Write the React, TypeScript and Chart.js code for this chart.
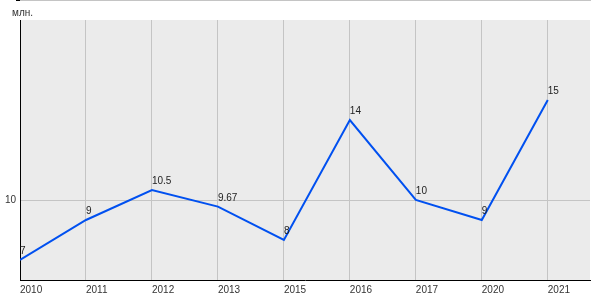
import React, { useEffect, useRef } from "react";
import { Chart, registerables } from "chart.js";

Chart.register(...registerables);

const years = ["2010", "2011", "2012", "2013", "2015", "2016", "2017", "2020", "2021"];
const values = [7, 9, 10.5, 9.67, 8, 14, 10, 9, 15];
const valueLabels = ["7", "9", "10.5", "9.67", "8", "14", "10", "9", "15"];
const yTicks = [10];
const yUnit = "млн.";

const FONT = "Liberation Sans, Arial, sans-serif";

const decorPlugin = {
  id: "decor",
  beforeDraw(chart: any) {
    const { ctx, chartArea } = chart;
    ctx.save();
    ctx.fillStyle = "#ffffff";
    ctx.fillRect(0, 0, chart.width, chart.height);
    ctx.fillStyle = "#ebebeb";
    ctx.fillRect(chartArea.left, chartArea.top, chartArea.right - chartArea.left, chartArea.bottom - chartArea.top);
    ctx.fillStyle = "#c4c4c4";
    ctx.fillRect(chartArea.left, 0, chartArea.right - chartArea.left + 1, 1);
    ctx.fillStyle = "#000000";
    ctx.fillRect(16, 0, 4, 1);
    ctx.fillStyle = "#333333";
    ctx.font = "10px " + FONT;
    ctx.textAlign = "left";
    ctx.textBaseline = "alphabetic";
    ctx.fillText(yUnit, 12, 16);
    ctx.restore();
  },
  afterDatasetsDraw(chart: any) {
    const { ctx } = chart;
    const meta = chart.getDatasetMeta(0);
    ctx.save();
    ctx.fillStyle = "#222222";
    ctx.font = "10px " + FONT;
    ctx.textAlign = "left";
    ctx.textBaseline = "alphabetic";
    meta.data.forEach((pt: any, i: number) => {
      ctx.fillText(valueLabels[i], pt.x, pt.y - 6);
    });
    ctx.restore();
  },
};

export default function App() {
  const ref = useRef<HTMLCanvasElement>(null);
  useEffect(() => {
    if (!ref.current) return;
    const chart = new Chart(ref.current, {
      type: "line",
      data: {
        datasets: [
          {
            data: values.map((v, i) => ({ x: i, y: v })),
            borderColor: "#0050f0",
            borderWidth: 2,
            pointRadius: 0,
            tension: 0,
            fill: false,
          },
        ],
      },
      options: {
        animation: false,
        responsive: false,
        maintainAspectRatio: false,
        layout: { padding: { top: 20, right: 10, left: 0, bottom: 0 } },
        plugins: { legend: { display: false }, tooltip: { enabled: false } },
        scales: {
          x: {
            type: "linear",
            min: 0,
            max: 8.64,
            afterFit: (s: any) => {
              s.height = 20;
            },
            ticks: {
              stepSize: 1,
              includeBounds: false,
              autoSkip: false,
              maxRotation: 0,
              align: "start",
              padding: 4,
              color: "#333333",
              font: { size: 10, family: FONT },
              callback: (v: any) => years[v as number] ?? "",
            },
            grid: { color: "#c4c4c4", drawTicks: false, lineWidth: 1 },
            border: { color: "#000000", width: 1 },
          },
          y: {
            min: 6,
            max: 19,
            afterFit: (s: any) => {
              s.width = 20;
            },
            afterBuildTicks: (s: any) => {
              s.ticks = yTicks.map((v) => ({ value: v }));
            },
            ticks: {
              padding: 4,
              color: "#333333",
              font: { size: 10, family: FONT },
            },
            grid: { color: "#c4c4c4", drawTicks: false, lineWidth: 1 },
            border: { color: "#000000", width: 1 },
          },
        },
      },
      plugins: [decorPlugin],
    });
    return () => chart.destroy();
  }, []);
  return (
    <div style={{ position: "absolute", left: 0, top: 0, width: 600, height: 300 }}>
      <canvas ref={ref} width={600} height={300} style={{ width: 600, height: 300 }} />
    </div>
  );
}
